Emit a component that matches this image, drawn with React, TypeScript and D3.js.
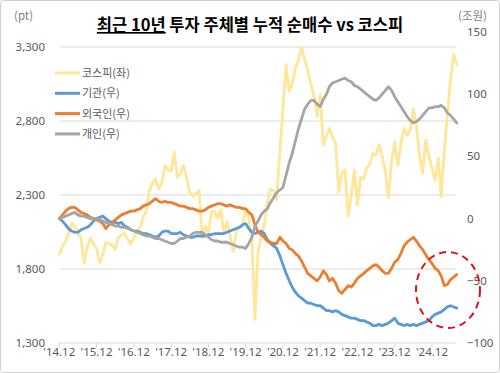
import React from "react";
import * as d3 from "d3";

// Monthly series, Dec 2014 .. Aug 2025
const kospi = [
  1900, 1950, 1990, 2040, 2110, 2090, 2050, 2010, 1840, 1950, 2010, 1970,
  1940, 1840, 1900, 1980, 1970, 1960, 1930, 2010, 2030, 2040, 2000, 1970,
  2010, 2060, 2080, 2150, 2190, 2330, 2380, 2410, 2340, 2380, 2500, 2470,
  2460, 2590, 2420, 2440, 2500, 2420, 2320, 2290, 2310, 2330, 2010, 2090,
  2040, 2190, 2190, 2140, 2200, 2050, 2120, 2030, 1920, 2050, 2080, 2090,
  2200, 2150, 1990, 1460, 1920, 2010, 2100, 2240, 2340, 2330, 2270, 2600,
  2880, 3180, 3000, 3050, 3150, 3210, 3300, 3220, 3140, 3050, 2970, 2830,
  2980, 2640, 2700, 2750, 2690, 2650, 2320, 2450, 2470, 2160, 2290, 2470,
  2230, 2420, 2410, 2480, 2510, 2580, 2570, 2640, 2560, 2460, 2280, 2530,
  2660, 2500, 2650, 2750, 2700, 2740, 2880, 2770, 2560, 2450, 2670, 2560,
  2480, 2400, 2550, 2290, 2600, 2850, 3080, 3250, 3180,
];
const institution = [
  0, -2, -5, -8, -10, -11, -11, -9, -8, -7, -5, -2,
  0, 1, 2, 0, -2, -3, -3, -4, -3, -6, -7, -9,
  -10, -10, -11, -12, -12, -13, -14, -15, -14, -11, -10, -10,
  -12, -12, -12, -11, -13, -14, -15, -15, -14, -14, -14, -14,
  -13, -13, -12, -12, -12, -12, -11, -10, -9, -8, -7, -5,
  -4, -8, -11, -12, -11, -10, -12, -17, -20, -22, -24, -30,
  -37, -44, -50, -55, -59, -62, -64, -66, -68, -68, -69, -70,
  -70, -72, -74, -74, -75, -74, -75, -77, -78, -79, -80, -80,
  -81, -82, -82, -83, -84, -86, -86, -85, -86, -85, -84, -82,
  -80, -84, -85, -86, -85, -86, -85, -86, -85, -84, -83, -82,
  -79, -77, -76, -75, -73, -71, -70, -71, -72,
];
const foreign = [
  0, 3, 6, 8, 9, 9, 7, 5, 4, 3, 1, 0,
  -1, -2, -4, -8, -5, -3, -1, 1, 3, 4, 5, 6,
  6, 7, 8, 10, 11, 12, 14, 16, 14, 13, 14, 13,
  13, 12, 11, 10, 10, 9, 8, 8, 7, 6, 6, 7,
  9, 10, 11, 12, 12, 11, 10, 11, 10, 9, 9, 8,
  8, 5, 3, -5, -11, -13, -15, -18, -19, -20, -20, -15,
  -18, -20, -24, -25, -28, -30, -34, -39, -44, -46, -48, -50,
  -47, -42, -45, -50, -48, -52, -58, -60, -57, -54, -55, -52,
  -48, -46, -44, -42, -40, -38, -37, -39, -42, -44, -44, -40,
  -35, -33, -28, -22, -19, -17, -15, -18, -22, -25, -29, -33,
  -36, -40, -42, -46, -54, -53, -49, -47, -45,
];
const individual = [
  0, 1, 2, 3, 4, 5, 3, 2, 2, 1, 0, 0,
  0, -1, -2, -3, -4, -5, -6, -6, -7, -7, -8, -9,
  -10, -11, -12, -13, -14, -14, -15, -16, -16, -17, -18, -19,
  -20, -20, -18, -16, -16, -15, -14, -12, -11, -11, -11, -13,
  -15, -17, -18, -18, -19, -19, -19, -20, -21, -22, -23, -23,
  -24, -20, -15, -6, -2, 3, 6, 8, 13, 17, 21, 23,
  25, 35, 45, 52, 62, 72, 80, 88, 92, 95, 95, 92,
  90, 96, 100, 106, 109, 110, 111, 112, 113, 111, 110, 107,
  106, 104, 102, 100, 98, 96, 95, 97, 100, 103, 106, 103,
  98, 94, 90, 86, 82, 79, 77, 78, 80, 83, 86, 89,
  89, 90, 90, 91, 89, 85, 83, 80, 77,
];

const leftTicks = [1300, 1800, 2300, 2800, 3300];
const rightTicks = [-100, -50, 0, 50, 100, 150];
const tickYears = [2014, 2015, 2016, 2017, 2018, 2019, 2020, 2021, 2022, 2023, 2024];

const seriesInfo = [
  { name: "코스피(좌)", color: "#FFE699", data: kospi, axis: "left" },
  { name: "기관(우)", color: "#5B9BD5", data: institution, axis: "right" },
  { name: "외국인(우)", color: "#ED7D31", data: foreign, axis: "right" },
  { name: "개인(우)", color: "#A5A5A5", data: individual, axis: "right" },
];

const W = 500;
const H = 373;
const FONT = "'Noto Sans', 'Noto Sans CJK KR', sans-serif";
const KFONT = "'Noto Sans CJK KR', 'Noto Sans', sans-serif";

export default function App() {
  const x = d3
    .scaleTime()
    .domain([new Date(2014, 11, 1), new Date(2024, 11, 1)])
    .range([59.3, 432]);
  const yL = d3.scaleLinear().domain([1300, 3300]).range([343, 47]);
  const yR = d3.scaleLinear().domain([-100, 150]).range([343, 32]);
  const dateOf = (i: number) => new Date(2014, 11 + i, 1);
  const plotRight = 456;

  const lineFor = (s: (typeof seriesInfo)[number]) => {
    const ys = s.axis === "left" ? yL : yR;
    return d3
      .line<number>()
      .x((_, i) => x(dateOf(i)))
      .y((v) => ys(v))(s.data) as string;
  };

  return (
    <svg
      width={W}
      height={H}
      style={{ position: "absolute", left: 0, top: 0, background: "#fff" }}
    >
      <rect x={0.5} y={0.5} width={W - 1} height={H - 1} rx={3} fill="#fff" stroke="#d0d0d0" />
      {/* title */}
      <text
        x={250}
        y={31}
        textAnchor="middle"
        fontFamily={KFONT}
        fontSize={16.5}
        fontWeight={700}
        fill="#000"
      >
        <tspan style={{ textDecoration: "underline" }}>최근 10년</tspan>
        <tspan> 투자 주체별 누적 순매수 vs 코스피</tspan>
      </text>
      <text x={14} y={20} fontFamily={KFONT} fontSize={11.5} fill="#7f7f7f">(pt)</text>
      <text x={458} y={20} fontFamily={KFONT} fontSize={11.5} fill="#7f7f7f">(조원)</text>

      {/* grid + left axis */}
      {leftTicks.map((t) => (
        <g key={"l" + t}>
          {t !== 1300 && (
            <line x1={59.3} x2={plotRight} y1={yL(t)} y2={yL(t)} stroke="#d9d9d9" strokeWidth={1} />
          )}
          <text
            x={45}
            y={yL(t) + 4}
            textAnchor="end"
            fontFamily={FONT}
            fontSize={11.5}
            fill="#595959"
          >
            {d3.format(",")(t)}
          </text>
        </g>
      ))}
      {rightTicks.map((t) => (
        <text
          key={"r" + t}
          x={467}
          y={yR(t) + 4}
          fontFamily={FONT}
          fontSize={11.5}
          fill="#595959"
        >
          {t < 0 ? "\u2212" + Math.abs(t) : t}
        </text>
      ))}

      {/* x axis */}
      <line x1={59.3} x2={plotRight} y1={343} y2={343} stroke="#d9d9d9" strokeWidth={1} />
      {tickYears.map((yr) => {
        const px = x(new Date(yr, 11, 1));
        return (
          <g key={"x" + yr}>
            <line x1={px} x2={px} y1={343} y2={348} stroke="#d9d9d9" />
            <text
              x={px}
              y={356}
              textAnchor="middle"
              fontFamily={FONT}
              fontSize={11.5}
              fill="#595959"
            >
              {"'" + String(yr).slice(2) + ".12"}
            </text>
          </g>
        );
      })}

      {/* series */}
      {seriesInfo.map((s) => (
        <path
          key={s.name}
          d={lineFor(s)}
          fill="none"
          stroke={s.color}
          strokeWidth={2.8}
          strokeLinejoin="round"
          strokeLinecap="round"
        />
      ))}

      {/* legend */}
      {seriesInfo.map((s, i) => (
        <g key={"lg" + s.name} transform={`translate(55, ${73 + i * 20.3})`}>
          <line x1={0} x2={25} y1={0} y2={0} stroke={s.color} strokeWidth={3} />
          <text x={27} y={4} fontFamily={KFONT} fontSize={11} fill="#595959">
            {s.name}
          </text>
        </g>
      ))}

      {/* highlight */}
      <ellipse
        cx={448}
        cy={290}
        rx={32}
        ry={38}
        fill="none"
        stroke="#E0101A"
        strokeWidth={2}
        strokeDasharray="7,5"
      />
    </svg>
  );
}
